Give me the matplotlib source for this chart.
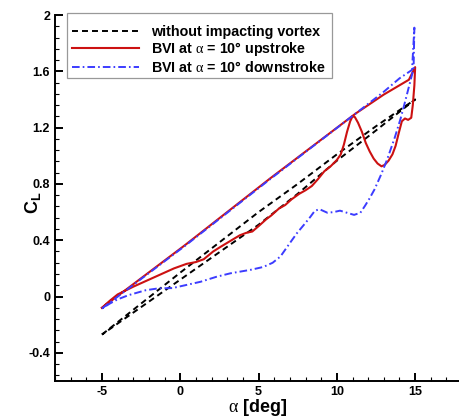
import matplotlib
matplotlib.use("Agg")
import matplotlib.pyplot as plt
from matplotlib.ticker import MultipleLocator, FixedLocator, FixedFormatter
from matplotlib.patches import Rectangle

plt.rcParams['font.family'] = ['Liberation Sans', 'DejaVu Sans']
plt.rcParams['mathtext.fontset'] = 'custom'
plt.rcParams['mathtext.rm'] = 'Liberation Serif'
plt.rcParams['mathtext.bf'] = 'Liberation Sans:bold'
plt.rcParams['lines.scale_dashes'] = False

# ---------------- data ----------------
# without impacting vortex (closed loop: up then down)
black_alpha = [-5, -2.5, 0, 2.5, 5, 7.5, 10, 12.5, 15,
               12.5, 10, 7.5, 5, 2.5, 0, -2.5, -5]
black_cl = [-0.27, -0.05, 0.17, 0.385, 0.60, 0.80, 1.01, 1.21, 1.40,
            1.18, 0.965, 0.73, 0.51, 0.315, 0.12, -0.075, -0.27]

# BVI at alpha = 10 deg upstroke
red_alpha = [-5, 0.3, 5.75, 11.2, 13.0, 14.6, 15.0,
             14.95, 14.85, 14.75, 14.55, 14.35, 14.15, 13.95, 13.75, 13.55,
             13.3, 13.05, 12.85, 12.6, 12.35, 12.1, 11.85, 11.6, 11.35,
             11.15, 11.0, 10.85, 10.65, 10.45, 10.25, 10.0, 9.6, 9.2, 8.8,
             8.4, 8.0, 7.6, 7.1, 6.7, 6.3, 5.8, 5.5, 5.0, 4.6, 4.2, 3.8,
             3.2, 2.6, 2.1, 1.5, 1.0, 0.4, -0.4, -1.3, -2.0, -3.0, -4.0,
             -4.5, -5.0]
red_cl = [-0.08, 0.365, 0.84, 1.30, 1.435, 1.54, 1.63,
          1.50, 1.36, 1.27, 1.255, 1.265, 1.245, 1.16, 1.07, 1.01,
          0.965, 0.935, 0.925, 0.945, 0.98, 1.03, 1.09, 1.17, 1.235,
          1.275, 1.28, 1.245, 1.17, 1.08, 1.01, 0.97, 0.925, 0.89, 0.835,
          0.785, 0.755, 0.73, 0.69, 0.65, 0.625, 0.575, 0.55, 0.50, 0.462,
          0.452, 0.435, 0.395, 0.355, 0.32, 0.265, 0.245, 0.232, 0.20,
          0.155, 0.12, 0.07, 0.015, -0.03, -0.08]

# BVI at alpha = 10 deg downstroke
blue_alpha = [-5, 0.3, 5.75, 11.2, 13.0, 14.0, 14.8, 14.95, 14.9,
              14.6, 14.3, 14.06, 13.7, 13.2, 12.8, 12.4, 12.05, 11.8, 11.5,
              11.1, 10.65, 10.2, 9.8, 9.4, 8.9, 8.6, 8.3, 7.9, 7.45, 7.0,
              6.4, 5.9, 5.3, 4.5, 3.2, 2.3, 1.3, 0.3, -0.5, -1.4, -2.2,
              -3.3, -4.0, -4.5, -5.0]
blue_cl = [-0.085, 0.36, 0.835, 1.30, 1.455, 1.55, 1.61, 1.91, 1.62,
           1.49, 1.36, 1.26, 1.13, 0.97, 0.86, 0.76, 0.69, 0.645, 0.595,
           0.58, 0.595, 0.61, 0.60, 0.595, 0.62, 0.61, 0.565, 0.51, 0.45,
           0.38, 0.285, 0.24, 0.21, 0.19, 0.165, 0.14, 0.105, 0.08, 0.06,
           0.058, 0.045, 0.01, -0.02, -0.05, -0.085]

labels = ["without impacting vortex",
          r"BVI at $\mathrm{\alpha}$ = 10° upstroke",
          r"BVI at $\mathrm{\alpha}$ = 10° downstroke"]

xticks = [-5, 0, 5, 10, 15]
xtick_labels = ["-5", "0", "5", "10", "15"]
yticks = [-0.4, 0, 0.4, 0.8, 1.2, 1.6, 2.0]
ytick_labels = ["-0.4", "0", "0.4", "0.8", "1.2", "1.6", "2"]

# ---------------- figure ----------------
W, H = 459, 418
fig = plt.figure(figsize=(W / 100, H / 100), dpi=100)
ax = fig.add_axes([55 / W, 37 / H, 1 - 55 / W, (381 - 15) / H])
ax.set_xlim(-8, 17.8)
ax.set_ylim(-0.6, 2.0)

l1, = ax.plot(black_alpha, black_cl, color='black', lw=1.4,
              dashes=(4.3, 2.9), label=labels[0])
l2, = ax.plot(red_alpha, red_cl, color='#cc1111', lw=1.5, label=labels[1])
l3, = ax.plot(blue_alpha, blue_cl, color='#3c3cff', lw=1.4,
              dashes=(5.5, 2.2, 1.2, 2.2), label=labels[2])

for s in ['top', 'right']:
    ax.spines[s].set_visible(False)
for s in ['left', 'bottom']:
    ax.spines[s].set_linewidth(1.4)

ax.xaxis.set_major_locator(FixedLocator(xticks))
ax.xaxis.set_major_formatter(FixedFormatter(xtick_labels))
ax.xaxis.set_minor_locator(MultipleLocator(1))
ax.yaxis.set_major_locator(FixedLocator(yticks))
ax.yaxis.set_major_formatter(FixedFormatter(ytick_labels))
ax.yaxis.set_minor_locator(MultipleLocator(0.08))

ax.tick_params(which='major', direction='in', length=5.5, width=1.4,
               labelsize=9, pad=3.6)
ax.tick_params(which='minor', direction='in', length=3, width=0.8)
for t in ax.get_xticklabels() + ax.get_yticklabels():
    t.set_fontweight('bold')

ax.set_xlabel(r"$\mathrm{\alpha}$ [deg]", fontsize=13, fontweight='bold',
              va='center', ha='center')
ax.xaxis.set_label_coords((258 - 55) / 404, (381 - 407) / 366)
ax.set_ylabel(r"$\mathbf{C}_\mathbf{L}$", fontsize=13, va='center', ha='center')
ax.yaxis.set_label_coords((33 - 55) / 404, (381 - 203) / 366)

# legend
leg = fig.legend(handles=[l1, l2, l3], loc='upper left',
                 bbox_to_anchor=(72 / W, 1 - 25 / H), frameon=False,
                 borderpad=0, borderaxespad=0, handlelength=4.7,
                 handletextpad=0.8, labelspacing=0.1,
                 prop={'family': ['Liberation Sans', 'DejaVu Sans'],
                       'weight': 'bold', 'size': 10.3})
fig.patches.append(Rectangle((67 / W, 1 - 78 / H), (332 - 67) / W, (78 - 13) / H,
                             transform=fig.transFigure, fill=False,
                             edgecolor='0.6', lw=0.9, zorder=5))

fig.savefig("out.png", dpi=100)
